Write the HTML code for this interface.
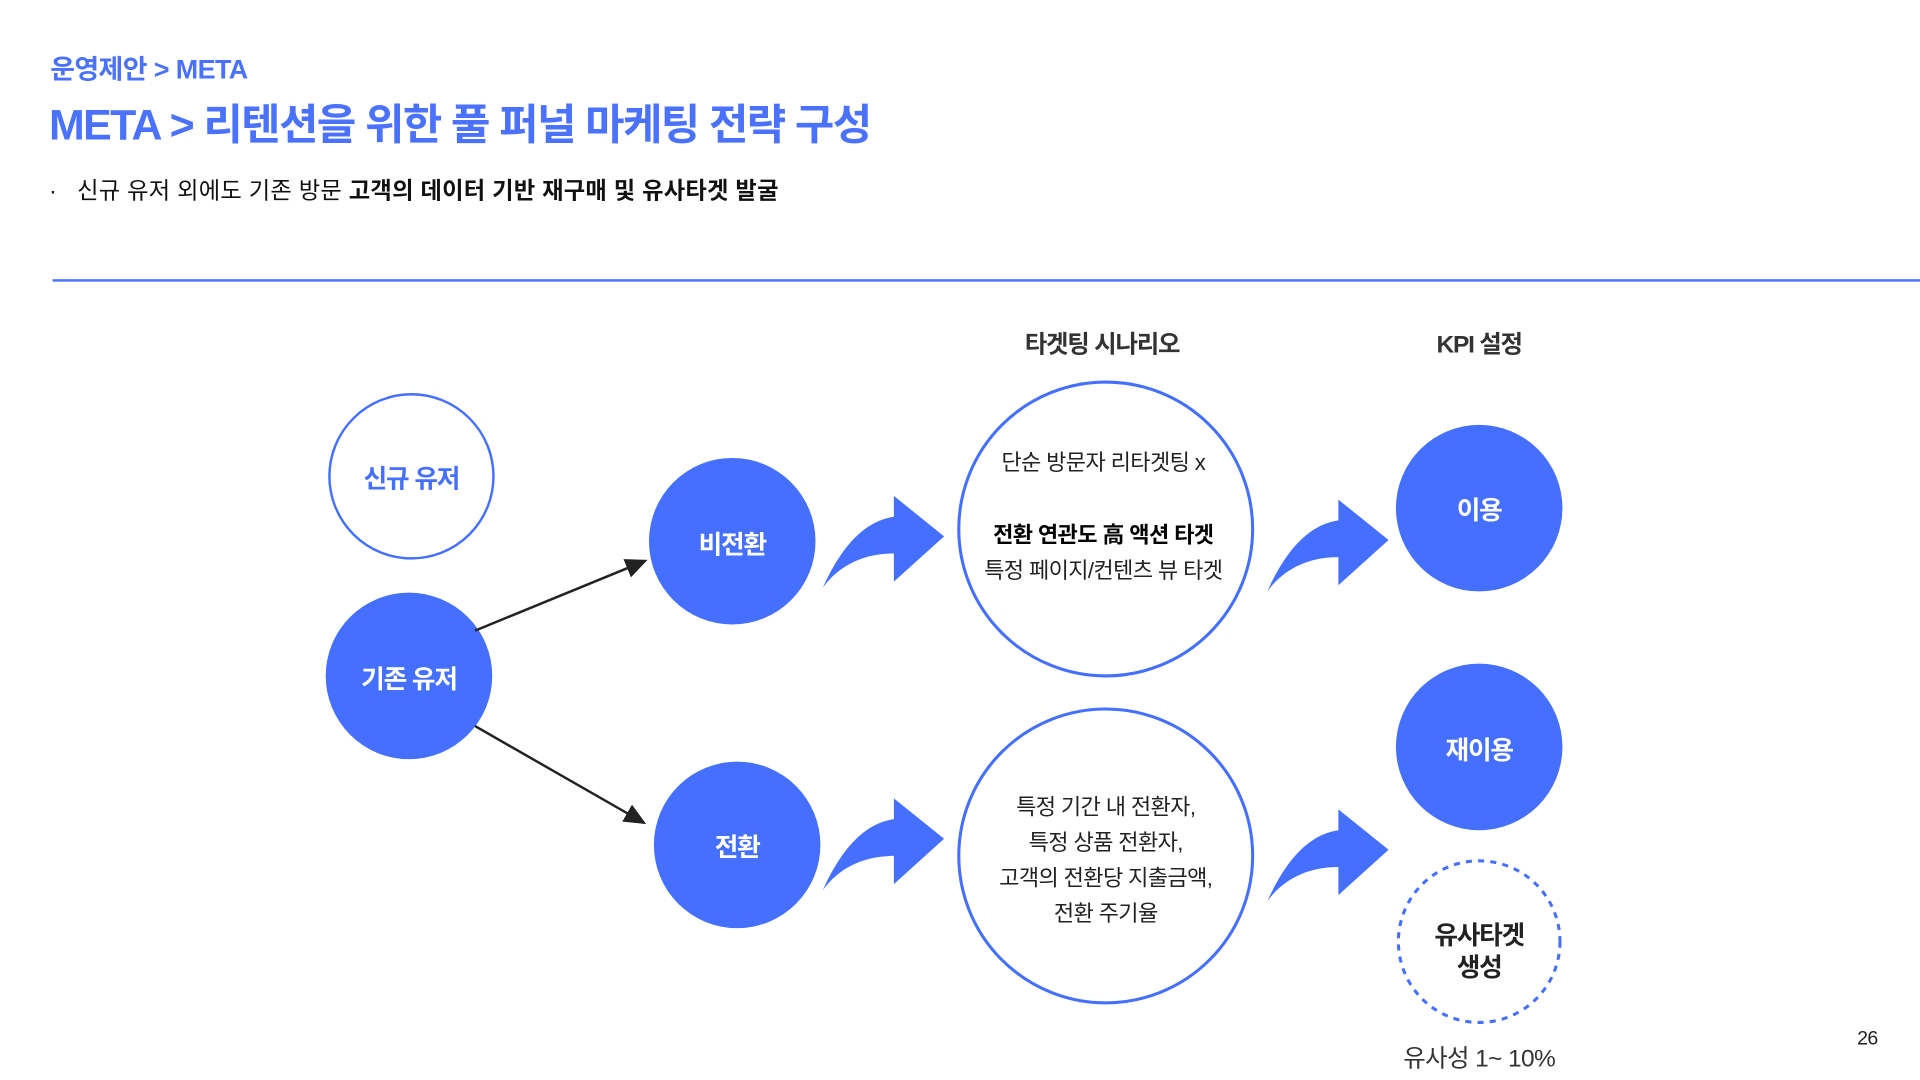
<!DOCTYPE html>
<html><head><meta charset="utf-8"><style>
body{margin:0;width:1920px;height:1080px;overflow:hidden;background:#fff}
#s{position:absolute;left:0;top:0;width:1568px;height:882px;transform:scale(1.22449);transform-origin:0 0;font-family:"Liberation Sans","Noto Sans CJK KR",sans-serif}
.t{position:absolute;white-space:nowrap}
</style></head><body><div id="s">
<div class="t" style="left:41px;top:39px;font-size:22px;font-weight:bold;color:#4a72ff;letter-spacing:-0.5px">운영제안 &gt; META</div>
<div class="t" style="left:40px;top:74px;font-size:35px;font-weight:bold;color:#4a72ff;letter-spacing:-1.3px">META &gt; 리텐션을 위한 풀 퍼널 마케팅 전략 구성</div>
<div class="t" style="left:40px;top:141px;font-size:19px;color:#111;letter-spacing:0.2px">·&nbsp;&nbsp;&nbsp;신규 유저 외에도 기존 방문 <b>고객의 데이터 기반 재구매 및 유사타겟 발굴</b></div>
<div style="position:absolute;left:43px;top:228px;width:1525px;height:2px;background:#4a72ff"></div>
<svg width="1568" height="882" style="position:absolute;left:0;top:0" font-family="Liberation Sans, Noto Sans CJK KR, sans-serif">
<defs><marker id="a" markerWidth="10" markerHeight="10" refX="8" refY="5" orient="auto"><path d="M0,1 L9,5 L0,9Z" fill="#222"/></marker>
<path id="arr" d="M672,480 C690,440 710,425 730,422 L730,405 L771,438 L730,475 L730,452 C705,452 685,462 672,480 Z" fill="#4570ff"/></defs>
<circle cx="336" cy="389" r="67" fill="#fff" stroke="#4570ff" stroke-width="2"/>
<circle cx="334" cy="552" r="68" fill="#4570ff"/>
<circle cx="598" cy="442" r="68" fill="#4570ff"/>
<circle cx="602" cy="690" r="68" fill="#4570ff"/>
<circle cx="903" cy="432" r="120" fill="#fff" stroke="#4570ff" stroke-width="2.5"/>
<circle cx="903" cy="699" r="120" fill="#fff" stroke="#4570ff" stroke-width="2.5"/>
<circle cx="1208" cy="415" r="68" fill="#4570ff"/>
<circle cx="1208" cy="610" r="68" fill="#4570ff"/>
<circle cx="1208" cy="769" r="66" fill="#fff" stroke="#4570ff" stroke-width="2.5" stroke-dasharray="5,5"/>
<line x1="388" y1="515" x2="527" y2="458" stroke="#222" stroke-width="2" marker-end="url(#a)"/>
<line x1="388" y1="593" x2="526" y2="672" stroke="#222" stroke-width="2" marker-end="url(#a)"/>
<use href="#arr"/>
<use href="#arr" transform="translate(0,247)"/>
<use href="#arr" transform="translate(363,3)"/>
<use href="#arr" transform="translate(363,256)"/>
<g font-weight="bold" font-size="21" text-anchor="middle" fill="#fff" letter-spacing="-1">
<text x="336" y="398" fill="#4570ff">신규 유저</text>
<text x="334" y="562">기존 유저</text>
<text x="598" y="452">비전환</text>
<text x="602" y="699">전환</text>
<text x="1208" y="424">이용</text>
<text x="1208" y="620">재이용</text>
<text x="1208" y="771" fill="#222">유사타겟</text>
<text x="1208" y="797" fill="#222">생성</text>
<text x="900" y="288" fill="#333" font-size="20">타겟팅 시나리오</text>
<text x="1208" y="288" fill="#333" font-size="20">KPI 설정</text>
</g>
<g font-size="18" text-anchor="middle" fill="#222" letter-spacing="-0.5">
<text x="901" y="384">단순 방문자 리타겟팅 x</text>
<text x="901" y="443" font-weight="bold" fill="#000">전환 연관도 高 액션 타겟</text>
<text x="901" y="472">특정 페이지/컨텐츠 뷰 타겟</text>
<text x="903" y="665">특정 기간 내 전환자,</text>
<text x="903" y="694">특정 상품 전환자,</text>
<text x="903" y="723">고객의 전환당 지출금액,</text>
<text x="903" y="752">전환 주기율</text>
<text x="1208" y="871" font-size="20" fill="#333">유사성 1~ 10%</text>
<text x="1525" y="853" font-size="16" fill="#222">26</text>
</g>
</svg>
</div></body></html>
